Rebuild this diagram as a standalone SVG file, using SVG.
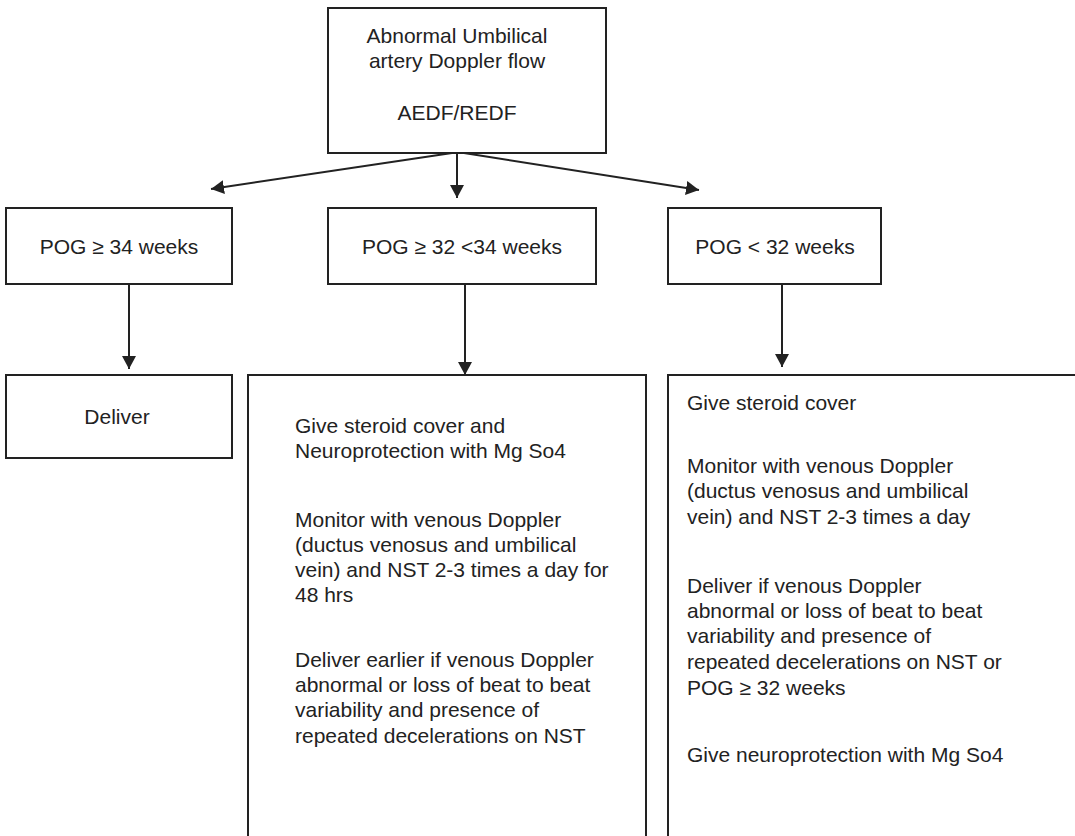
<svg xmlns="http://www.w3.org/2000/svg" width="1075" height="836" viewBox="0 0 1075 836">
<style>
.box{fill:#fff;stroke:#222;stroke-width:2}
.open{fill:none;stroke:#222;stroke-width:2}
.t{font-family:"Liberation Sans",Arial,sans-serif;font-size:21px;fill:#222}
.c{text-anchor:middle}
.edge{stroke:#222;stroke-width:2;fill:none;marker-end:url(#ah)}
</style>
<defs>
<marker id="ah" markerUnits="userSpaceOnUse" markerWidth="14" markerHeight="14" refX="13" refY="7" orient="auto">
<path d="M0,0 L13,7 L0,14 z" fill="#222"/>
</marker>
</defs>
<rect width="1075" height="836" fill="#fff"/>
<g id="connectors">
<line class="edge" x1="457" y1="153" x2="457" y2="198"/>
<line class="edge" x1="452" y1="153" x2="211" y2="189"/>
<line class="edge" x1="464" y1="153" x2="699" y2="190"/>
<line class="edge" x1="129" y1="284" x2="129" y2="369"/>
<line class="edge" x1="465" y1="284" x2="465" y2="375"/>
<line class="edge" x1="782" y1="284" x2="782" y2="367"/>
</g>
<g id="root">
<rect class="box" x="328" y="8" width="278" height="145"/>
<text class="t c" x="457" y="43">Abnormal Umbilical</text>
<text class="t c" x="457" y="68">artery Doppler flow</text>
<text class="t c" x="457" y="120">AEDF/REDF</text>
</g>
<g id="pog34">
<rect class="box" x="6" y="208" width="226" height="76"/>
<text class="t c" x="119" y="254">POG ≥ 34 weeks</text>
</g>
<g id="pog32_34">
<rect class="box" x="328" y="208" width="268" height="76"/>
<text class="t c" x="462" y="254">POG ≥ 32 &lt;34 weeks</text>
</g>
<g id="pog32">
<rect class="box" x="668" y="208" width="213" height="76"/>
<text class="t c" x="775" y="254">POG &lt; 32 weeks</text>
</g>
<g id="deliver">
<rect class="box" x="6" y="375" width="226" height="83"/>
<text class="t c" x="117" y="424">Deliver</text>
</g>
<g id="mid_plan">
<path class="open" d="M248,837 V375 H646 V837"/>
<text class="t" x="295" y="433">Give steroid cover and</text>
<text class="t" x="295" y="458">Neuroprotection with Mg So4</text>
<text class="t" x="295" y="527">Monitor with venous Doppler</text>
<text class="t" x="295" y="552">(ductus venosus and umbilical</text>
<text class="t" x="295" y="577">vein) and NST 2-3 times a day for</text>
<text class="t" x="295" y="602">48 hrs</text>
<text class="t" x="295" y="667">Deliver earlier if venous Doppler</text>
<text class="t" x="295" y="692">abnormal or loss of beat to beat</text>
<text class="t" x="295" y="717">variability and presence of</text>
<text class="t" x="295" y="743">repeated decelerations on NST</text>
</g>
<g id="right_plan">
<path class="open" d="M668,837 V375 H1076"/>
<text class="t" x="687" y="410">Give steroid cover</text>
<text class="t" x="687" y="473">Monitor with venous Doppler</text>
<text class="t" x="687" y="498">(ductus venosus and umbilical</text>
<text class="t" x="687" y="524">vein) and NST 2-3 times a day</text>
<text class="t" x="687" y="593">Deliver if venous Doppler</text>
<text class="t" x="687" y="618">abnormal or loss of beat to beat</text>
<text class="t" x="687" y="643">variability and presence of</text>
<text class="t" x="687" y="669">repeated decelerations on NST or</text>
<text class="t" x="687" y="695">POG ≥ 32 weeks</text>
<text class="t" x="687" y="762">Give neuroprotection with Mg So4</text>
</g>
</svg>
